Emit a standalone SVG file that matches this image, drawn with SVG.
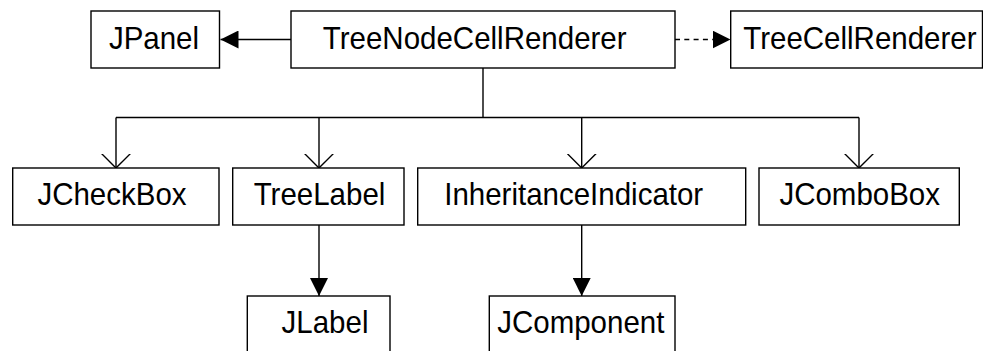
<svg xmlns="http://www.w3.org/2000/svg" width="983" height="351" viewBox="0 0 983 351">
  <style>
    .box { fill: #ffffff; stroke: #000000; stroke-width: 1.4; }
    .lbl { font-family: "Liberation Sans", Arial, sans-serif; font-size: 29.5px; fill: #000000; text-anchor: middle; }
    .edge { fill: none; stroke: #000000; stroke-width: 1.4; }
    .dash { stroke-dasharray: 5 4.3; }
  </style>
  <defs>
    <marker id="solidHead" viewBox="0 0 18 18" refX="18" refY="9" markerWidth="18" markerHeight="18" markerUnits="userSpaceOnUse" orient="auto">
      <path d="M0,0 L18,9 L0,18 Z" fill="#000000"/>
    </marker>
    <marker id="openHead" viewBox="0 0 16 30" refX="14.5" refY="15" markerWidth="16" markerHeight="30" markerUnits="userSpaceOnUse" orient="auto">
      <path d="M0,0.5 L14.5,15 L0,29.5" fill="none" stroke="#000000" stroke-width="1.4"/>
    </marker>
  </defs>

  <!-- connectors -->
  <g id="connectors">
    <line class="edge" x1="291" y1="39.5" x2="220.5" y2="39.5" marker-end="url(#solidHead)"/>
    <line class="edge dash" x1="675" y1="39.5" x2="730.5" y2="39.5" marker-end="url(#solidHead)"/>
    <polyline class="edge" points="483,68 483,117.5"/>
    <polyline class="edge" points="116,117.5 859,117.5"/>
    <line class="edge" x1="116" y1="117.5" x2="116" y2="168" marker-end="url(#openHead)"/>
    <line class="edge" x1="319" y1="117.5" x2="319" y2="168" marker-end="url(#openHead)"/>
    <line class="edge" x1="581.7" y1="117.5" x2="581.7" y2="168" marker-end="url(#openHead)"/>
    <line class="edge" x1="859" y1="117.5" x2="859" y2="168" marker-end="url(#openHead)"/>
    <line class="edge" x1="319" y1="225" x2="319" y2="296" marker-end="url(#solidHead)"/>
    <line class="edge" x1="581.7" y1="225" x2="581.7" y2="296" marker-end="url(#solidHead)"/>
  </g>

  <!-- top row -->
  <g id="JPanel">
    <rect class="box" x="91" y="11" width="128.5" height="57"/>
    <text class="lbl" transform="translate(154 48.5) scale(1 1.08)">JPanel</text>
  </g>
  <g id="TreeNodeCellRenderer">
    <rect class="box" x="291" y="11" width="384" height="57"/>
    <text class="lbl" transform="translate(474.7 48.5) scale(1 1.08)">TreeNodeCellRenderer</text>
  </g>
  <g id="TreeCellRenderer">
    <rect class="box" x="730.7" y="11" width="251.8" height="57"/>
    <text class="lbl" transform="translate(859.9 48.5) scale(1 1.08)">TreeCellRenderer</text>
  </g>

  <!-- middle row -->
  <g id="JCheckBox">
    <rect class="box" x="12.7" y="168" width="206.3" height="57"/>
    <text class="lbl" transform="translate(112 205) scale(1 1.08)">JCheckBox</text>
  </g>
  <g id="TreeLabel">
    <rect class="box" x="232.7" y="168" width="171.3" height="57"/>
    <text class="lbl" transform="translate(319.5 205) scale(1 1.08)">TreeLabel</text>
  </g>
  <g id="InheritanceIndicator">
    <rect class="box" x="417.7" y="168" width="328" height="57"/>
    <text class="lbl" transform="translate(573.7 205) scale(1 1.08)">InheritanceIndicator</text>
  </g>
  <g id="JComboBox">
    <rect class="box" x="759" y="168" width="200.3" height="57"/>
    <text class="lbl" transform="translate(859.7 205) scale(1 1.08)">JComboBox</text>
  </g>

  <!-- bottom row -->
  <g id="JLabel">
    <rect class="box" x="247.3" y="296" width="142.7" height="62"/>
    <text class="lbl" transform="translate(325 333) scale(1 1.08)">JLabel</text>
  </g>
  <g id="JComponent">
    <rect class="box" x="489.3" y="296" width="185.7" height="62"/>
    <text class="lbl" transform="translate(580.8 333) scale(1 1.08)">JComponent</text>
  </g>
</svg>
